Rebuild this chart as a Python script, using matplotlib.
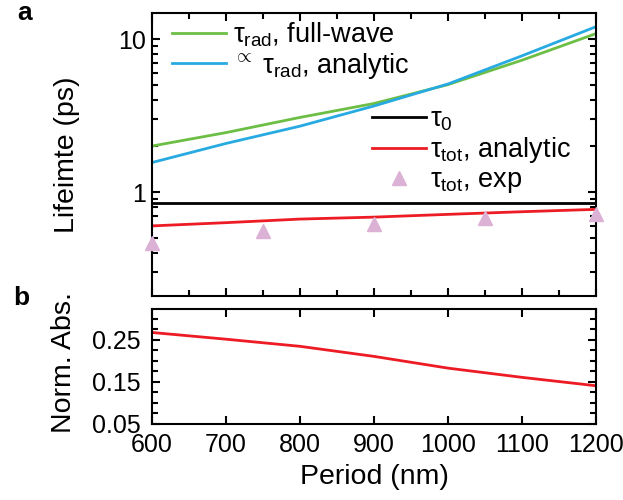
import numpy as np
import matplotlib.pyplot as plt
from matplotlib.ticker import FixedLocator, MultipleLocator, LogLocator, FuncFormatter, NullFormatter

plt.rcParams['font.family'] = ['Liberation Sans', 'DejaVu Sans']
plt.rcParams['mathtext.fontset'] = 'custom'
plt.rcParams['mathtext.rm'] = 'Liberation Sans'
plt.rcParams['mathtext.it'] = 'Liberation Sans'
plt.rcParams['mathtext.bf'] = 'Liberation Sans:bold'
plt.rcParams['axes.linewidth'] = 1.5

# lifetimes vs grating period (ps)
period = [600, 700, 800, 900, 1000, 1100, 1200]
tau_rad_fw = [2.0, 2.45, 3.08, 3.8, 5.05, 7.3, 10.9]
tau_rad_an = [1.56, 2.08, 2.7, 3.66, 5.1, 7.8, 12.1]
tau_tot_an = [0.60, 0.63, 0.665, 0.685, 0.714, 0.743, 0.77]
tau0 = 0.85

period_exp = [600, 750, 900, 1050, 1200]
tau_tot_exp = [0.463, 0.553, 0.621, 0.678, 0.721]

# normalized absorption
norm_abs = [0.267, 0.251, 0.234, 0.21, 0.182, 0.16, 0.14]

green = '#6dbe45'
blue = '#27aae1'
red = '#ed1c24'
pink = '#dcb1d6'

fig = plt.figure(figsize=(6.23, 5), dpi=100)
ax1 = fig.add_axes([0.244, 0.408, 0.7127, 0.566])
ax2 = fig.add_axes([0.244, 0.153, 0.7127, 0.229])

l1, = ax1.plot(period, tau_rad_fw, color=green, lw=2)
l2, = ax1.plot(period, tau_rad_an, color=blue, lw=2)
l3 = ax1.axhline(tau0, color='black', lw=2)
l4, = ax1.plot(period, tau_tot_an, color=red, lw=2)
l5, = ax1.plot(period_exp, tau_tot_exp, '^', color=pink, ms=10, ls='none', clip_on=False, zorder=5)

ax1.set_yscale('log')
ax1.set_xlim(600, 1200)
ax1.set_ylim(0.2085, 14.87)
ax1.yaxis.set_major_locator(FixedLocator([1, 10]))
ax1.yaxis.set_major_formatter(FuncFormatter(lambda v, _: f'{v:g}'))
ax1.yaxis.set_minor_locator(LogLocator(base=10, subs=np.arange(2, 10)))
ax1.yaxis.set_minor_formatter(NullFormatter())
ax1.xaxis.set_major_locator(MultipleLocator(100))
ax1.xaxis.set_minor_locator(MultipleLocator(50))
ax1.tick_params(axis='both', which='both', direction='in', top=True, right=True, width=1.5, labelsize=18)
ax1.tick_params(which='major', length=6)
ax1.tick_params(which='minor', length=4)
ax1.tick_params(axis='y', pad=4)
ax1.tick_params(axis='x', labelbottom=False)
ax1.set_ylabel('Lifeimte (ps)', fontsize=20.5)
ax1.yaxis.set_label_coords(-0.162, 0.5)

leg1 = ax1.legend([l1, l2], [r'$\tau_{\rm rad}$, full-wave', r'$^{\propto}$ $\tau_{\rm rad}$, analytic'],
                  loc='upper left', bbox_to_anchor=(0.045, 0.972), frameon=False, fontsize=19.5,
                  handlelength=2.0, handletextpad=0.25, labelspacing=0.05, borderpad=0, borderaxespad=0)
ax1.add_artist(leg1)
ax1.legend([l3, l4, l5], [r'$\tau_0$', r'$\tau_{\rm tot}$, analytic', r'$\tau_{\rm tot}$, exp'],
           loc='upper left', bbox_to_anchor=(0.495, 0.67), frameon=False, fontsize=19.5, numpoints=1,
           handlelength=2.0, handletextpad=0.15, labelspacing=0.08, borderpad=0, borderaxespad=0)

ax2.plot(period, norm_abs, color=red, lw=2)
ax2.set_xlim(600, 1200)
ax2.set_ylim(0.05, 0.323)
ax2.yaxis.set_major_locator(FixedLocator([0.05, 0.15, 0.25]))
ax2.yaxis.set_minor_locator(MultipleLocator(0.025))
ax2.xaxis.set_major_locator(MultipleLocator(100))
ax2.tick_params(axis='both', which='both', direction='in', top=True, right=True, width=1.5, labelsize=18)
ax2.tick_params(which='major', length=6)
ax2.tick_params(which='minor', length=4)
ax2.tick_params(axis='y', pad=8)
ax2.tick_params(axis='x', pad=7)
ax2.set_xlabel('Period (nm)', fontsize=20.5)
ax2.xaxis.set_label_coords(0.5, -0.354)
ax2.set_ylabel('Norm. Abs.', fontsize=20.5)
ax2.yaxis.set_label_coords(-0.169, 0.535)

fig.text(0.027, 0.96, 'a', fontsize=19, fontweight='bold', va='baseline')
fig.text(0.021, 0.39, 'b', fontsize=19, fontweight='bold', va='baseline')

fig.savefig('out.png', dpi=100)
